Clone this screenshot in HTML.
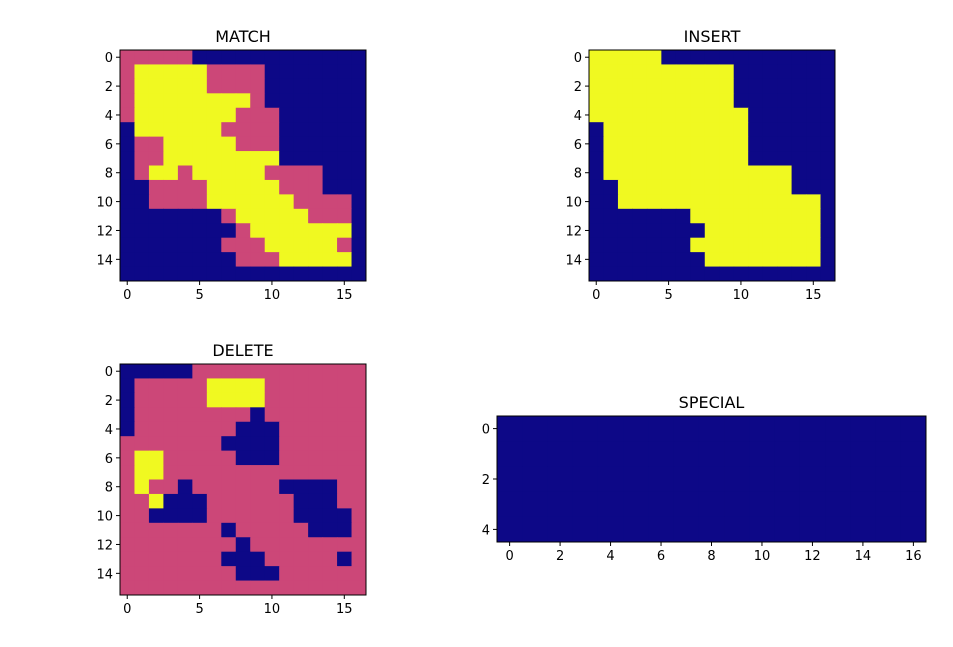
<!DOCTYPE html>
<html><head><meta charset="utf-8"><style>
html,body{margin:0;padding:0;background:#fff;}
svg{display:block;font-family:"DejaVu Sans","Liberation Sans",sans-serif;}
</style></head><body>
<svg id="fig" width="953" height="647" viewBox="0 0 953 647" xmlns="http://www.w3.org/2000/svg"></svg>
<script>
const palette = ["#0d0887", "#cc4778", "#f0f921"];
const matchGrid = [
"11111000000000000",
"12222211110000000",
"12222211110000000",
"12222222210000000",
"12222222111000000",
"02222221111000000",
"01122222111000000",
"01122222222000000",
"01221222221111000",
"00111122222111000",
"00111122222211110",
"00000001222221110",
"00000000122222220",
"00000001112222210",
"00000000111222220",
"00000000000000000"];
const insertGrid = [
"22222000000000000",
"22222222220000000",
"22222222220000000",
"22222222220000000",
"22222222222000000",
"02222222222000000",
"02222222222000000",
"02222222222000000",
"02222222222222000",
"00222222222222000",
"00222222222222220",
"00000002222222220",
"00000000222222220",
"00000002222222220",
"00000000222222220",
"00000000000000000"];
const deleteGrid = [
"00000111111111111",
"01111122221111111",
"01111122221111111",
"01111111101111111",
"01111111000111111",
"11111110000111111",
"12211111000111111",
"12211111111111111",
"12110111111000011",
"11200011111100011",
"11000011111100001",
"11111110111110001",
"11111111011111111",
"11111110001111101",
"11111111000111111",
"11111111111111111"];
const specialGrid = [
"00000000000000000",
"00000000000000000",
"00000000000000000",
"00000000000000000",
"00000000000000000"];
const xTicks = [0, 5, 10, 15];
const yTicksSquare = [0, 2, 4, 6, 8, 10, 12, 14];
const xTicksSpecial = [0, 2, 4, 6, 8, 10, 12, 14, 16];
const yTicksSpecial = [0, 2, 4];

const NS = "http://www.w3.org/2000/svg";
const svg = document.getElementById("fig");
function mk(tag, attrs, parent) {
  const e = document.createElementNS(NS, tag);
  for (const k in attrs) e.setAttribute(k, attrs[k]);
  (parent || svg).appendChild(e);
  return e;
}
function panel(name, title, grid, x0, y0, w, h, xt, yt) {
  const g = mk("g", {});
  
  
  const rows = grid.length, cols = grid[0].length;
  const cw = w / cols, ch = h / rows;
  const sx = c => x0 + (c + 0.5) * cw;
  const sy = r => y0 + (r + 0.5) * ch;
  for (let r = 0; r < rows; r++) for (let c = 0; c < cols; c++) {
    const v = +grid[r][c];
    const rc = mk("rect", {x: x0 + c * cw, y: y0 + r * ch, width: cw + 0.5, height: ch + 0.5, fill: palette[v]}, g);
    
    
  }
  const fr = mk("rect", {x: x0, y: y0, width: w, height: h, fill: "none", stroke: "#000", "stroke-width": 1}, g);
  
  
  xt.forEach(t => {
    const x = sx(t);
    mk("line", {x1: x, x2: x, y1: y0 + h, y2: y0 + h + 4, stroke: "#000"}, g);
    const tx = mk("text", {x: x, y: y0 + h + 18, "text-anchor": "middle", "font-size": 13}, g);
    tx.textContent = t;
    
    
  });
  yt.forEach(t => {
    const y = sy(t);
    mk("line", {x1: x0 - 4, x2: x0, y1: y, y2: y, stroke: "#000"}, g);
    const tx = mk("text", {x: x0 - 7, y: y + 5, "text-anchor": "end", "font-size": 13}, g);
    tx.textContent = t;
    
    
  });
  const ti = mk("text", {x: x0 + w / 2, y: y0 - 8, "text-anchor": "middle", "font-size": 16}, g);
  ti.textContent = title;
  
  
}
panel("match", "MATCH", matchGrid, 120, 50, 246, 231, xTicks, yTicksSquare);
panel("insert", "INSERT", insertGrid, 589, 50, 246, 231, xTicks, yTicksSquare);
panel("delete", "DELETE", deleteGrid, 120, 364, 246, 231, xTicks, yTicksSquare);
panel("special", "SPECIAL", specialGrid, 497, 416, 429, 126, xTicksSpecial, yTicksSpecial);
</script>
</body></html>
